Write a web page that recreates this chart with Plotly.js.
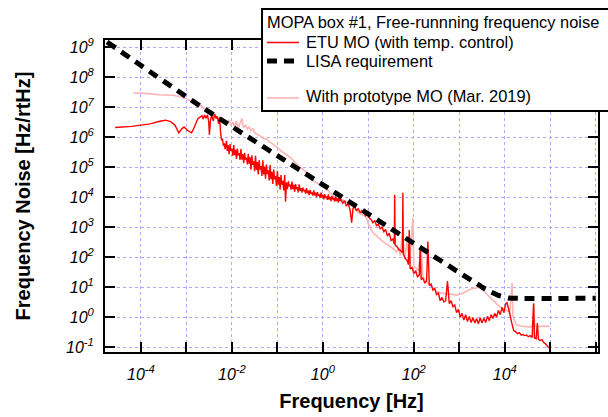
<!DOCTYPE html>
<html>
<head>
<meta charset="utf-8">
<script src="https://cdn.plot.ly/plotly-3.0.1.min.js"></script>
<style>html,body{margin:0;padding:0;background:#fff;}#chart{width:608px;height:417px;}</style>
</head>
<body>
<div id="chart"></div>
<script>
// ETU MO (with temp. control) — frequency [Hz] and noise [Hz/rtHz]
const etuFreq = [
2.7e-5,6.3e-5,1.6e-4,2.6e-4,3.5e-4,4.5e-4,5.6e-4,6.8e-4,7.9e-4,8.9e-4,1.05e-3,1.2e-3,1.3e-3,1.5e-3,1.66e-3,1.8e-3,2.0e-3,2.2e-3,2.35e-3,2.5e-3,2.7e-3,2.9e-3,3.1e-3,3.2e-3,3.4e-3,3.6e-3,3.9e-3,4.2e-3,4.5e-3,4.8e-3,5.1e-3,5.4e-3,5.6e-3,5.9e-3,6.2e-3,6.5e-3,6.8e-3,7.1e-3,
7.6e-3,7.9e-3,8.3e-3,8.7e-3,9.1e-3,9.5e-3,1.0e-2,1.05e-2,1.1e-2,1.15e-2,1.2e-2,1.26e-2,1.32e-2,1.38e-2,1.45e-2,1.51e-2,1.58e-2,1.66e-2,1.74e-2,1.82e-2,1.9e-2,2.0e-2,2.09e-2,2.19e-2,2.29e-2,2.4e-2,2.51e-2,2.63e-2,2.75e-2,2.88e-2,3.02e-2,3.16e-2,3.31e-2,3.47e-2,3.63e-2,3.8e-2,3.98e-2,4.17e-2,4.37e-2,4.57e-2,4.79e-2,5.01e-2,5.25e-2,5.5e-2,5.75e-2,6.03e-2,6.31e-2,6.61e-2,6.92e-2,7.24e-2,7.59e-2,7.94e-2,8.32e-2,8.71e-2,9.12e-2,9.55e-2,
0.1,0.105,0.11,0.115,0.12,0.126,0.132,0.138,0.145,0.151,0.158,0.166,0.174,0.182,0.191,0.2,0.209,0.219,0.229,0.24,0.251,0.263,0.275,0.288,0.302,0.316,0.331,0.347,0.363,0.38,0.398,0.417,0.437,0.457,0.479,0.501,0.525,0.55,0.575,0.603,0.631,0.661,0.692,0.724,0.759,0.794,0.832,0.871,0.912,0.955,
1.0,1.05,1.1,1.15,1.2,1.26,1.32,1.38,1.45,1.51,1.58,1.66,1.74,1.82,1.91,2.0,2.09,2.19,2.29,2.4,
2.5,2.75,3.0,3.3,3.6,4.0,4.3,4.6,5.0,5.5,6.0,6.6,7.2,7.9,8.7,9.5,10.5,11.5,12.6,13.8,15.1,16.6,18.2,20,21.9,24,26.3,28.8,31.6,34.7,37.2,38,38.9,42.7,46.8,52.5,56.2,57.5,58.9,64.6,70.8,75.9,79.4,83.2,91.2,
100,110,120,132,138,145,158,174,191,204,219,240,263,288,316,347,380,417,457,501,550,603,661,724,794,871,955,
1050,1150,1260,1380,1510,1660,1820,2000,2190,2400,2630,2880,3160,3470,3800,4170,4570,5010,5500,6030,6610,7240,7940,8710,9550,
1.05e4,1.12e4,1.2e4,1.29e4,1.38e4,1.48e4,1.58e4,1.74e4,1.9e4,2.1e4,2.3e4,2.5e4,2.75e4,3.0e4,3.3e4,3.6e4,4.0e4,4.3e4,4.5e4,4.9e4,5.2e4,5.5e4,6.0e4,6.6e4,7.2e4,7.9e4,8.7e4,9.3e4
];
const etuNoise = [
2.1e6,2.3e6,2.8e6,3.4e6,3.7e6,3.3e6,2.5e6,1.4e6,1.9e6,2.2e6,1.7e6,1.5e6,1.4e6,2.2e6,3.2e6,4.2e6,4.7e6,5.2e6,4.0e6,5.5e6,4.3e6,5.6e6,3.2e6,1.2e6,4.0e6,5.2e6,3.5e6,6.0e6,4.2e6,5.0e6,2.8e6,4.6e6,1.6e6,7.9e5,8.9e5,5.2e5,6.3e5,4.0e5,
7.6e5,3.5e5,5.4e5,2.7e5,5.9e5,3.5e5,4.2e5,2.4e5,5.5e5,2.5e5,3.8e5,1.9e5,4.2e5,2.45e5,2.95e5,1.74e5,4.0e5,1.8e5,2.75e5,1.38e5,3.0e5,1.74e5,2.1e5,1.23e5,2.8e5,1.32e5,2.15e5,8.3e4,2.5e5,1.2e5,1.58e5,7.4e4,2.4e5,8.1e4,1.48e5,5.75e4,1.74e5,8.3e4,1.1e5,5.1e4,1.7e5,5.75e4,1.05e5,4.1e4,1.23e5,5.9e4,7.8e4,3.6e4,1.17e5,4.0e4,7.1e4,2.75e4,8.3e4,3.9e4,5.1e4,2.35e4,
7.6e4,2.6e4,4.7e4,1.8e4,5.5e4,2.6e4,3.5e4,1.66e4,5.5e4,7.1e3,3.1e4,1.86e4,3.4e4,2.3e4,2.6e4,1.78e4,3.3e4,1.86e4,2.6e4,1.51e4,2.75e4,1.86e4,2.15e4,1.45e4,2.7e4,1.62e4,2.0e4,1.41e4,2.1e4,1.58e4,1.74e4,1.32e4,2.0e4,1.35e4,1.66e4,1.17e4,1.74e4,1.32e4,1.45e4,1.12e4,1.7e4,1.15e4,1.41e4,1.0e4,1.48e4,1.12e4,1.23e4,9.3e3,1.41e4,9.8e3,
1.2e4,8.5e3,1.26e4,9.5e3,1.05e4,8.1e3,1.23e4,8.3e3,1.02e4,7.4e3,1.1e4,8.3e3,9.3e3,7.1e3,1.07e4,7.4e3,9.1e3,6.6e3,9.8e3,7.6e3,
8.3e3,6.3e3,7.6e3,5.0e3,6.3e3,3.5e3,1.4e3,4.2e3,5.0e3,3.5e3,4.2e3,3.0e3,3.6e3,3.2e3,2.4e3,2.8e3,2.0e3,1.8e3,1.4e3,1.66e3,1.12e3,1.26e3,890,1000,710,830,500,630,355,400,280,1.2e4,250,224,178,158,141,1.4e4,126,89,79,56,794,40,45,
28,35,22,25,200,18,20,14,16,330,11.2,12.6,7.9,8.9,5.6,6.3,3.5,4.5,3.2,3.5,16,2.8,3.5,2.2,2.5,1.4,1.8,
1.0,1.32,0.79,1.2,0.71,1.05,0.66,0.95,0.63,0.89,0.6,0.95,0.63,0.91,0.66,1.05,0.76,1.2,0.89,1.32,1.0,1.66,1.2,2.1,1.41,
2.8,3.0,2.0,1.26,0.79,0.5,0.35,0.32,0.28,0.30,0.25,0.26,0.24,0.25,0.22,0.24,0.21,2.8,0.20,0.19,0.63,0.18,0.166,0.174,0.14,0.126,0.105,0.095
];

// With prototype MO (Mar. 2019)
const protoFreq = [
6.8e-5,1.26e-4,2.5e-4,5.0e-4,7.9e-4,1.02e-3,1.26e-3,1.5e-3,1.78e-3,2.1e-3,2.4e-3,2.75e-3,3.2e-3,3.5e-3,4.0e-3,4.5e-3,5.0e-3,5.6e-3,6.3e-3,7.1e-3,7.9e-3,8.7e-3,9.5e-3,1.05e-2,1.15e-2,1.26e-2,1.38e-2,1.5e-2,1.66e-2,1.8e-2,2.0e-2,2.2e-2,2.4e-2,2.6e-2,2.9e-2,3.2e-2,3.5e-2,4.0e-2,4.5e-2,5.0e-2,5.8e-2,6.6e-2,7.9e-2,
0.1,0.126,0.158,0.2,0.25,0.316,0.4,0.5,0.63,0.79,1.0,1.2,1.41,1.78,2.24,2.8,3.55,4.5,5.5,6.6,7.9,9.1,10,11.2,12.6,15.8,20.9,28.2,35.5,41.7,47.9,50,56.2,63,70.8,81,95.5,100,126,145,158,200,251,316,398,501,631,871,
1120,1410,1700,2000,2510,2820,3550,4470,5500,6610,7760,1.0e4,1.29e4,1.45e4,1.51e4,1.66e4,1.82e4,2.24e4,2.82e4,3.55e4,4.17e4,4.37e4,4.57e4,5.62e4,7.08e4,9.8e4
];
const protoNoise = [
3.0e7,2.9e7,2.6e7,2.5e7,2.2e7,1.9e7,1.6e7,1.26e7,1.12e7,1.15e7,9.5e6,8.3e6,7.1e6,6.3e6,5.2e6,4.8e6,4.2e6,4.0e6,3.2e6,3.5e6,2.8e6,3.8e6,2.5e6,3.2e6,2.2e6,3.5e6,2.0e6,2.8e6,4.2e6,2.1e6,2.5e6,1.9e6,2.2e6,1.66e6,1.9e6,1.4e6,1.3e6,1.12e6,1.05e6,8.9e5,8.9e5,7.1e5,6.0e5,
4.5e5,3.3e5,2.6e5,2.0e5,1.4e5,1.0e5,7.6e4,5.0e4,3.5e4,2.8e4,2.4e4,2.0e4,1.4e4,1.05e4,8.5e3,7.9e3,6.6e3,5.0e3,3.5e3,2.8e3,2.5e3,2.1e3,1.26e3,890,660,480,330,240,190,150,200,112,630,95,316,63,2000,50,35,250,22,14,10,7.1,6.3,6.0,5.8,5.4,
6.0,7.1,8.3,8.9,9.5,10,7.1,5.0,3.6,2.8,2.2,1.78,1.48,13.5,1.12,0.71,0.54,0.50,0.48,0.47,0.50,2.9,0.50,0.48,0.50,0.49
];

// LISA requirement
const lisaFreq  = [1.8e-5, 2.0e-3, 1.7, 115, 3100, 5000, 7000, 1.2e4, 2.0e4, 1.0e6];
const lisaNoise = [1.5e9, 1.1e7, 1.55e4, 250, 10.2, 6.8, 5.4, 4.3, 4.2, 4.2];

// Axis ticks
const xTickVals = [1e-4,1e-3,1e-2,1e-1,1e0,1e1,1e2,1e3,1e4,1e5,1e6];
const xTickText = ['<i>10<sup>-4</sup></i>','','<i>10<sup>-2</sup></i>','','<i>10<sup>0</sup></i>','','<i>10<sup>2</sup></i>','','<i>10<sup>4</sup></i>','','<i>10<sup>6</sup></i>'];
const yTickVals = [1e-1,1e0,1e1,1e2,1e3,1e4,1e5,1e6,1e7,1e8,1e9];
const yTickText = ['<i>10<sup>-1</sup></i>','<i>10<sup>0</sup></i>','<i>10<sup>1</sup></i>','<i>10<sup>2</sup></i>','<i>10<sup>3</sup></i>','<i>10<sup>4</sup></i>','<i>10<sup>5</sup></i>','<i>10<sup>6</sup></i>','<i>10<sup>7</sup></i>','<i>10<sup>8</sup></i>','<i>10<sup>9</sup></i>'];

const legendTitle = 'MOPA box #1, Free-runnning frequency noise';
const seriesNames = ['ETU MO (with temp. control)', 'LISA requirement', 'With prototype MO (Mar. 2019)'];

const RED = '#ff0000', PINK = '#ffb4b4';
const FONT = 'Arial, "Liberation Sans", sans-serif';

// layout helpers (pixel -> paper fraction)
const L = 105, R = 598, T = 40, B = 352;
const X = p => (p - L) / (R - L);
const Y = p => (B - p) / (B - T);

const traces = [
  {x: protoFreq, y: protoNoise, type: 'scatter', mode: 'lines', name: seriesNames[2],
   line: {color: PINK, width: 1.6, simplify: false}},
  {x: etuFreq, y: etuNoise, type: 'scatter', mode: 'lines', name: seriesNames[0],
   line: {color: RED, width: 1.4, simplify: false}},
  {x: lisaFreq, y: lisaNoise, type: 'scatter', mode: 'lines', name: seriesNames[1],
   line: {color: '#000', width: 5, dash: '10px,7px', shape: 'spline', smoothing: 0.4}}
];

const axisCommon = {
  type: 'log', showline: true, linecolor: '#000', linewidth: 2, mirror: 'allticks',
  ticks: 'inside', ticklen: 10, tickwidth: 2, tickcolor: '#000',
  showgrid: true, gridcolor: '#aaaaff', griddash: 'dot', gridwidth: 1,
  zeroline: false, tickmode: 'array',
  tickfont: {family: FONT, size: 16, color: '#000'}
};

const layout = {
  width: 608, height: 417,
  margin: {l: L, r: 608 - R, t: T, b: 417 - B, autoexpand: false},
  paper_bgcolor: '#fff', plot_bgcolor: '#fff',
  showlegend: false,
  xaxis: Object.assign({}, axisCommon, {
    range: [-4.79, 6.05], tickvals: xTickVals, ticktext: xTickText, ticklabelstandoff: 7,
    title: {text: '<b>Frequency [Hz]</b>', font: {family: FONT, size: 20, color: '#000'}, standoff: 12}
  }),
  yaxis: Object.assign({}, axisCommon, {
    range: [-1.167, 9.244], tickvals: yTickVals, ticktext: yTickText, ticklabelstandoff: 6,
    title: {text: '<b>Frequency Noise [Hz/rtHz]</b>', font: {family: FONT, size: 20, color: '#000'}, standoff: 30}
  }),
  shapes: [
    {type: 'rect', xref: 'paper', yref: 'paper', layer: 'above',
     x0: X(262), x1: X(640), y0: Y(111), y1: Y(9),
     line: {color: '#000', width: 2}, fillcolor: '#fff'},
    {type: 'line', xref: 'paper', yref: 'paper', layer: 'above',
     x0: X(267), x1: X(299), y0: Y(42.5), y1: Y(42.5), line: {color: RED, width: 1.5}},
    {type: 'line', xref: 'paper', yref: 'paper', layer: 'above',
     x0: X(267), x1: X(299), y0: Y(61), y1: Y(61), line: {color: '#000', width: 5, dash: '10px,7px'}},
    {type: 'line', xref: 'paper', yref: 'paper', layer: 'above',
     x0: X(267), x1: X(299), y0: Y(98), y1: Y(98), line: {color: PINK, width: 1.6}}
  ],
  annotations: [
    {xref: 'paper', yref: 'paper', x: X(265), y: Y(22), xanchor: 'left', yanchor: 'middle', showarrow: false,
     text: legendTitle, font: {family: FONT, size: 16.4, color: '#000'}},
    {xref: 'paper', yref: 'paper', x: X(304), y: Y(42), xanchor: 'left', yanchor: 'middle', showarrow: false,
     text: seriesNames[0], font: {family: FONT, size: 16.4, color: '#000'}},
    {xref: 'paper', yref: 'paper', x: X(304), y: Y(61), xanchor: 'left', yanchor: 'middle', showarrow: false,
     text: seriesNames[1], font: {family: FONT, size: 16.4, color: '#000'}},
    {xref: 'paper', yref: 'paper', x: X(304), y: Y(96), xanchor: 'left', yanchor: 'middle', showarrow: false,
     text: seriesNames[2], font: {family: FONT, size: 16.4, color: '#000'}}
  ]
};

Plotly.newPlot('chart', traces, layout, {staticPlot: true, displayModeBar: false});
</script>
</body>
</html>
